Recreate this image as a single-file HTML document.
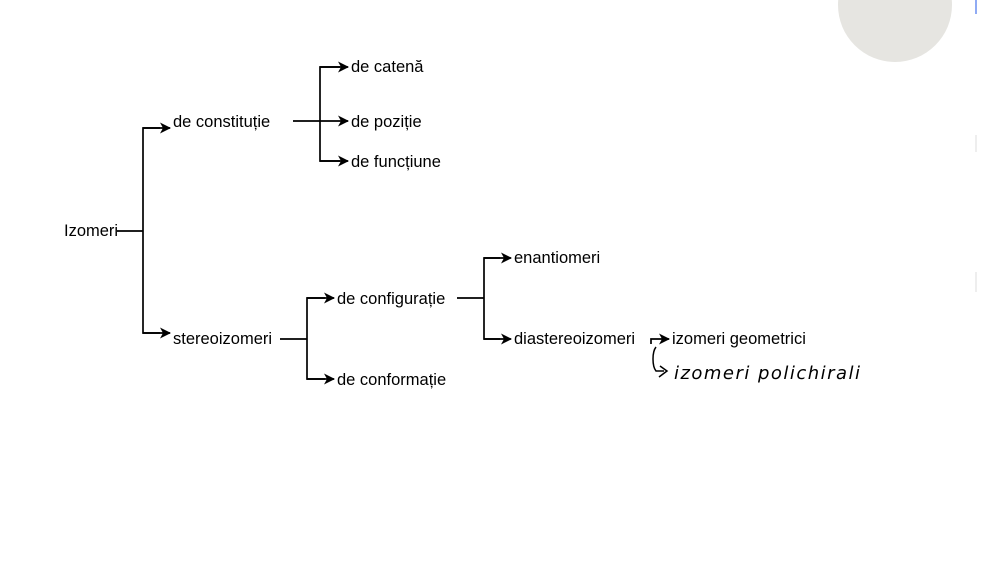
<!DOCTYPE html>
<html><head><meta charset="utf-8"><style>
html,body{margin:0;padding:0;background:#fff;}
body{width:1005px;height:565px;position:relative;overflow:hidden;}
</style></head><body>
<svg width="1005" height="565" xmlns="http://www.w3.org/2000/svg" style="position:absolute;left:0;top:0">
<defs><marker id="a" markerWidth="11" markerHeight="11" refX="10" refY="5.5" orient="auto" markerUnits="userSpaceOnUse"><path d="M0,0 L11,5.5 L0,11 L3,5.5 Z" fill="#000"/></marker></defs>
<circle cx="895" cy="5" r="57" fill="#e6e5e1"/>
<line x1="976" y1="0" x2="976" y2="14" stroke="#6a8ff0" stroke-width="1.5"/>
<line x1="976" y1="135" x2="976" y2="152" stroke="#ddd" stroke-width="1"/>
<line x1="976" y1="272" x2="976" y2="292" stroke="#ddd" stroke-width="1"/>
<g stroke="#000" stroke-width="1.7" fill="none">
<line x1="117" y1="231" x2="143" y2="231"/>
<path d="M160,128 H143 V333 H160" />
<line x1="143" y1="128" x2="170" y2="128" marker-end="url(#a)"/>
<line x1="143" y1="333" x2="170" y2="333" marker-end="url(#a)"/>
<line x1="293" y1="121" x2="348" y2="121" marker-end="url(#a)"/>
<path d="M340,67 H320 V161 H340"/>
<line x1="320" y1="67" x2="348" y2="67" marker-end="url(#a)"/>
<line x1="320" y1="161" x2="348" y2="161" marker-end="url(#a)"/>
<line x1="280" y1="339" x2="307" y2="339"/>
<path d="M325,298 H307 V379 H325"/>
<line x1="307" y1="298" x2="334" y2="298" marker-end="url(#a)"/>
<line x1="307" y1="379" x2="334" y2="379" marker-end="url(#a)"/>
<line x1="457" y1="298" x2="484" y2="298"/>
<path d="M500,258 H484 V339 H500"/>
<line x1="484" y1="258" x2="511" y2="258" marker-end="url(#a)"/>
<line x1="484" y1="339" x2="511" y2="339" marker-end="url(#a)"/>
<path d="M651,344 V339 H669" marker-end="url(#a)"/>
<path d="M656,347 C652,352 652,366 656,371 L664,371 M660,366 L667,371 L659,377" stroke-width="1.5"/>
</g>
<g font-family="Liberation Sans, sans-serif" font-size="16.5" fill="#000">
<text x="64" y="236">Izomeri</text>
<text x="173" y="127">de constituție</text>
<text x="351" y="72">de catenă</text>
<text x="351" y="127">de poziție</text>
<text x="351" y="167">de funcțiune</text>
<text x="173" y="344">stereoizomeri</text>
<text x="337" y="304">de configurație</text>
<text x="337" y="385">de conformație</text>
<text x="514" y="263">enantiomeri</text>
<text x="514" y="344">diastereoizomeri</text>
<text x="672" y="344">izomeri geometrici</text>
</g>
<text x="674" y="379" font-family="DejaVu Sans, sans-serif" font-style="italic" font-size="18" fill="#000" textLength="186">izomeri  polichirali</text>
</svg>
</body></html>
